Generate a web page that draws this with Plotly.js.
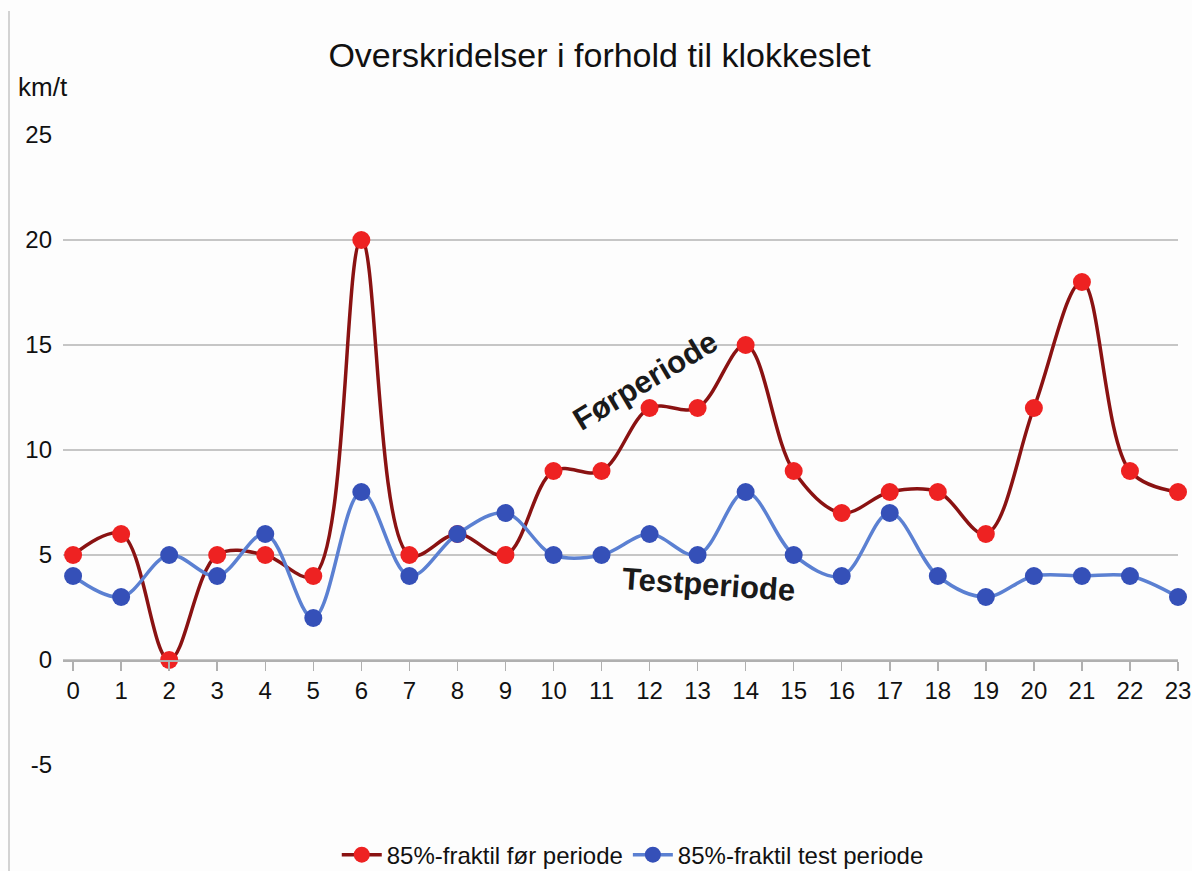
<!DOCTYPE html>
<html>
<head>
<meta charset="utf-8">
<script src="https://cdn.plot.ly/plotly-3.0.1.min.js"></script>
<style>html,body{margin:0;padding:0;background:#fff;}#chart{width:1192px;height:871px;}</style>
</head>
<body>
<div id="chart"></div>
<script>
var hours = [0,1,2,3,4,5,6,7,8,9,10,11,12,13,14,15,16,17,18,19,20,21,22,23];
var forPeriode = [5,6,0,5,5,4,20,5,6,5,9,9,12,12,15,9,7,8,8,6,12,18,9,8];
var testPeriode = [4,3,5,4,6,2,8,4,6,7,5,5,6,5,8,5,4,7,4,3,4,4,4,3];
var seriesNames = ['85%-fraktil før periode', '85%-fraktil test periode'];
var yTicks = [-5,0,5,10,15,20,25];

var font = 'Liberation Sans, Arial, sans-serif';

var traces = [
  {
    x: hours, y: forPeriode, name: seriesNames[0], type: 'scatter', mode: 'lines+markers',
    line: {color: '#8a1212', width: 3.5, shape: 'spline', smoothing: 1},
    marker: {color: '#ee2222', size: 18},
    cliponaxis: false
  },
  {
    x: hours, y: testPeriode, name: seriesNames[1], type: 'scatter', mode: 'lines+markers',
    line: {color: '#5b80d2', width: 3.5, shape: 'spline', smoothing: 1},
    marker: {color: '#3550b8', size: 18},
    cliponaxis: false
  }
];

var layout = {
  width: 1192, height: 871,
  margin: {l: 63, r: 14, t: 135, b: 106, autoexpand: false},
  paper_bgcolor: '#fdfdfd', plot_bgcolor: '#fdfdfd',
  font: {family: font, color: '#111', size: 24},
  title: {text: 'Overskridelser i forhold til klokkeslet', x: 0.503, xanchor: 'center', y: 0.937, yanchor: 'middle', font: {size: 34, family: font, color: '#111'}},
  showlegend: true,
  legend: {orientation: 'h', x: 0.511, xanchor: 'center', y: -0.143, yanchor: 'middle', font: {size: 24, family: font}, itemwidth: 40, tracegroupgap: 0, bgcolor: 'rgba(0,0,0,0)'},
  xaxis: {
    range: [-0.21, 23], anchor: 'free', position: 5/30,
    tickmode: 'array', tickvals: hours, ticktext: hours.map(String),
    showgrid: false, zeroline: false, showline: true, linecolor: '#b0b0b0', linewidth: 1.5,
    ticks: 'outside', ticklen: 9, tickcolor: '#b0b0b0', tickwidth: 1.5,
    tickfont: {size: 24, family: font, color: '#111'}
  },
  yaxis: {
    range: [-5, 25], tickmode: 'array', tickvals: yTicks, ticktext: yTicks.map(String),
    showgrid: true, gridcolor: '#c6c6c6', gridwidth: 1.5, zeroline: false, showline: false,
    ticks: '', ticklabelstandoff: 10,
    tickfont: {size: 24, family: font, color: '#111'}
  },
  shapes: [
    {type: 'line', xref: 'paper', yref: 'paper', x0: -54/1115, x1: -54/1115, y0: -1.3, y1: (765-11)/630, line: {color: '#b8b8b8', width: 1.2}}
  ],
  annotations: [
    {text: 'km/t', xref: 'paper', yref: 'paper', x: -47/1115, y: (765-87)/630, xanchor: 'left', yanchor: 'middle', showarrow: false, font: {size: 26, family: font, color: '#111'}},
    {text: '<b>Førperiode</b>', xref: 'paper', yref: 'paper', x: (645-63)/1115, y: (765-380)/630, xanchor: 'center', yanchor: 'middle', showarrow: false, textangle: -31, font: {size: 31, family: font, color: '#1a1a1a'}},
    {text: '<b>Testperiode</b>', xref: 'paper', yref: 'paper', x: (708-63)/1115, y: (765-584)/630, xanchor: 'center', yanchor: 'middle', showarrow: false, textangle: 4, font: {size: 31, family: font, color: '#1a1a1a'}}
  ]
};

Plotly.newPlot('chart', traces, layout, {staticPlot: true, displayModeBar: false});
</script>
</body>
</html>
